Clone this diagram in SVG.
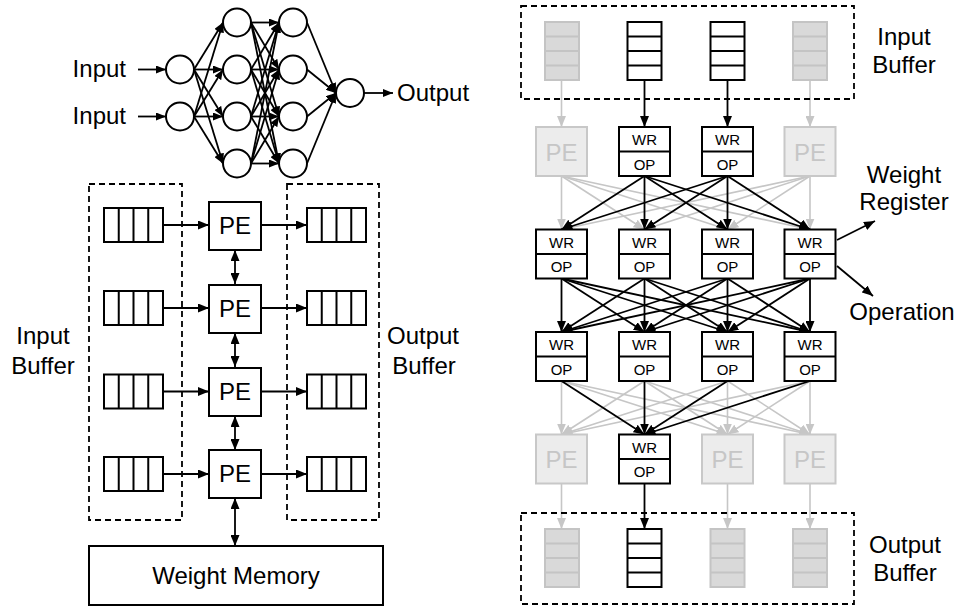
<svg xmlns="http://www.w3.org/2000/svg" width="957" height="606" viewBox="0 0 957 606">
  <style>
    .txt { font-family: "Liberation Sans", Arial, sans-serif; fill: #000; }
    .lbl { font-size: 24px; }
    .mid { text-anchor: middle; }
    .small { font-size: 15px; }
    .gtxt { fill: #c6c6c6; }
    .box { fill: #fff; stroke: #000; stroke-width: 2; }
    .cell { fill: none; stroke: #000; stroke-width: 2; }
    .gbox { fill: #ececec; stroke: #c8c8c8; stroke-width: 2; }
    .gbuf { fill: #d9d9d9; stroke: #c4c4c4; stroke-width: 2; }
    .dash { fill: none; stroke: #000; stroke-width: 1.8; stroke-dasharray: 6 4; }
    .neuron { fill: #fff; stroke: #000; stroke-width: 2; }
    .nn { stroke: #000; stroke-width: 1.8; fill: none; marker-end: url(#ahS); }
    .blk { stroke: #000; stroke-width: 1.8; fill: none; marker-end: url(#ah); }
    .dbl { stroke: #000; stroke-width: 1.8; fill: none; marker-end: url(#ah); marker-start: url(#ah); }
    .gry { stroke: #c6c6c6; stroke-width: 1.6; fill: none; marker-end: url(#ahG); }
  </style>
  <defs>
    <marker id="ah" markerUnits="userSpaceOnUse" markerWidth="11" markerHeight="9" refX="11" refY="4.5" orient="auto-start-reverse">
      <path d="M0,0 L11,4.5 L0,9 z" fill="#000"/>
    </marker>
    <marker id="ahS" markerUnits="userSpaceOnUse" markerWidth="10" markerHeight="8" refX="10" refY="4" orient="auto">
      <path d="M0,0 L10,4 L0,8 z" fill="#000"/>
    </marker>
    <marker id="ahG" markerUnits="userSpaceOnUse" markerWidth="11" markerHeight="9" refX="11" refY="4.5" orient="auto">
      <path d="M0,0 L11,4.5 L0,9 z" fill="#c6c6c6"/>
    </marker>
    <g id="hbuf">
      <rect x="0" y="0" width="59" height="34" class="box"/>
      <path d="M14.75,0 V34 M29.5,0 V34 M44.25,0 V34" class="cell"/>
    </g>
    <g id="vbuf">
      <rect x="0" y="0" width="34" height="58" class="box"/>
      <path d="M0,14.5 H34 M0,29 H34 M0,43.5 H34" class="cell"/>
    </g>
    <g id="vbufg">
      <rect x="0" y="0" width="34" height="58" class="gbuf"/>
      <path d="M0,14.5 H34 M0,29 H34 M0,43.5 H34" fill="none" stroke="#c4c4c4" stroke-width="2"/>
    </g>
  </defs>

  <!-- ===== Neural network sketch ===== -->
  <g id="nn-edges">
    <!-- inputs -->
    <line x1="138" y1="69.5" x2="166" y2="69.5" class="nn"/>
    <line x1="138" y1="116.5" x2="166" y2="116.5" class="nn"/>
    <!-- layer 1 -> layer 2 -->
    <line x1="194" y1="69.5" x2="223" y2="22.5" class="nn"/>
    <line x1="194" y1="69.5" x2="223" y2="69.5" class="nn"/>
    <line x1="194" y1="69.5" x2="223" y2="116.5" class="nn"/>
    <line x1="194" y1="69.5" x2="223" y2="163.5" class="nn"/>
    <line x1="194" y1="116.5" x2="223" y2="22.5" class="nn"/>
    <line x1="194" y1="116.5" x2="223" y2="69.5" class="nn"/>
    <line x1="194" y1="116.5" x2="223" y2="116.5" class="nn"/>
    <line x1="194" y1="116.5" x2="223" y2="163.5" class="nn"/>
    <!-- layer 2 -> layer 3 -->
    <line x1="251" y1="22.5" x2="279" y2="22.5" class="nn"/>
    <line x1="251" y1="22.5" x2="279" y2="69.5" class="nn"/>
    <line x1="251" y1="22.5" x2="279" y2="116.5" class="nn"/>
    <line x1="251" y1="22.5" x2="279" y2="163.5" class="nn"/>
    <line x1="251" y1="69.5" x2="279" y2="22.5" class="nn"/>
    <line x1="251" y1="69.5" x2="279" y2="69.5" class="nn"/>
    <line x1="251" y1="69.5" x2="279" y2="116.5" class="nn"/>
    <line x1="251" y1="69.5" x2="279" y2="163.5" class="nn"/>
    <line x1="251" y1="116.5" x2="279" y2="22.5" class="nn"/>
    <line x1="251" y1="116.5" x2="279" y2="69.5" class="nn"/>
    <line x1="251" y1="116.5" x2="279" y2="116.5" class="nn"/>
    <line x1="251" y1="116.5" x2="279" y2="163.5" class="nn"/>
    <line x1="251" y1="163.5" x2="279" y2="22.5" class="nn"/>
    <line x1="251" y1="163.5" x2="279" y2="69.5" class="nn"/>
    <line x1="251" y1="163.5" x2="279" y2="116.5" class="nn"/>
    <line x1="251" y1="163.5" x2="279" y2="163.5" class="nn"/>
    <!-- layer 3 -> output -->
    <line x1="307" y1="22.5" x2="336" y2="93" class="nn"/>
    <line x1="307" y1="69.5" x2="336" y2="93" class="nn"/>
    <line x1="307" y1="116.5" x2="336" y2="93" class="nn"/>
    <line x1="307" y1="163.5" x2="336" y2="93" class="nn"/>
    <line x1="364" y1="93" x2="393" y2="93" class="nn"/>
  </g>
  <g id="nn-nodes">
    <circle cx="180" cy="69.5" r="14" class="neuron"/>
    <circle cx="180" cy="116.5" r="14" class="neuron"/>
    <circle cx="237" cy="22.5" r="14" class="neuron"/>
    <circle cx="237" cy="69.5" r="14" class="neuron"/>
    <circle cx="237" cy="116.5" r="14" class="neuron"/>
    <circle cx="237" cy="163.5" r="14" class="neuron"/>
    <circle cx="293" cy="22.5" r="14" class="neuron"/>
    <circle cx="293" cy="69.5" r="14" class="neuron"/>
    <circle cx="293" cy="116.5" r="14" class="neuron"/>
    <circle cx="293" cy="163.5" r="14" class="neuron"/>
    <circle cx="350" cy="93" r="14" class="neuron"/>
  </g>
  <g id="nn-labels">
    <text x="126" y="77" class="txt lbl" text-anchor="end">Input</text>
    <text x="126" y="124" class="txt lbl" text-anchor="end">Input</text>
    <text x="397" y="101" class="txt lbl">Output</text>
  </g>

  <!-- ===== Systolic PE column (left) ===== -->
  <g id="left-input-buffer">
    <rect x="89" y="184" width="93" height="336" class="dash"/>
    <use href="#hbuf" x="104" y="208"/>
    <use href="#hbuf" x="104" y="291"/>
    <use href="#hbuf" x="104" y="374.5"/>
    <use href="#hbuf" x="104" y="457"/>
    <text x="43" y="344" class="txt lbl mid">Input</text>
    <text x="43" y="374" class="txt lbl mid">Buffer</text>
  </g>
  <g id="left-output-buffer">
    <rect x="287" y="184" width="92" height="336" class="dash"/>
    <use href="#hbuf" x="307" y="208"/>
    <use href="#hbuf" x="307" y="291"/>
    <use href="#hbuf" x="307" y="374.5"/>
    <use href="#hbuf" x="307" y="457"/>
    <text x="423" y="344" class="txt lbl mid">Output</text>
    <text x="424" y="374" class="txt lbl mid">Buffer</text>
  </g>
  <g id="left-connectors">
    <line x1="163" y1="225" x2="209" y2="225" class="blk"/>
    <line x1="163" y1="308" x2="209" y2="308" class="blk"/>
    <line x1="163" y1="391.5" x2="209" y2="391.5" class="blk"/>
    <line x1="163" y1="474" x2="209" y2="474" class="blk"/>
    <line x1="261" y1="225" x2="307" y2="225" class="blk"/>
    <line x1="261" y1="308" x2="307" y2="308" class="blk"/>
    <line x1="261" y1="391.5" x2="307" y2="391.5" class="blk"/>
    <line x1="261" y1="474" x2="307" y2="474" class="blk"/>
    <line x1="235" y1="250" x2="235" y2="284" class="dbl"/>
    <line x1="235" y1="333" x2="235" y2="367" class="dbl"/>
    <line x1="235" y1="416" x2="235" y2="450" class="dbl"/>
    <line x1="235" y1="498" x2="235" y2="546" class="dbl"/>
  </g>
  <g id="pe-l1">
    <rect x="209" y="202" width="52" height="48" class="box"/>
    <text x="235" y="234" class="txt lbl mid">PE</text>
  </g>
  <g id="pe-l2">
    <rect x="209" y="285" width="52" height="48" class="box"/>
    <text x="235" y="317" class="txt lbl mid">PE</text>
  </g>
  <g id="pe-l3">
    <rect x="209" y="368" width="52" height="48" class="box"/>
    <text x="235" y="400" class="txt lbl mid">PE</text>
  </g>
  <g id="pe-l4">
    <rect x="209" y="450" width="52" height="48" class="box"/>
    <text x="235" y="482" class="txt lbl mid">PE</text>
  </g>
  <g id="weight-memory">
    <rect x="89" y="546" width="294" height="59" class="box"/>
    <text x="236" y="584" class="txt lbl mid">Weight Memory</text>
  </g>

  <!-- ===== Reconfigurable PE array (right) ===== -->
  <g id="array-connectors">
    <!-- input buffer -> row 1 -->
    <line x1="561.5" y1="80" x2="561.5" y2="127" class="gry"/>
    <line x1="810" y1="80" x2="810" y2="127" class="gry"/>
    <line x1="644.5" y1="80" x2="644.5" y2="127" class="blk"/>
    <line x1="727.5" y1="80" x2="727.5" y2="127" class="blk"/>
    <!-- row 1 -> row 2, inactive sources -->
    <line x1="561.5" y1="176" x2="561.5" y2="229.5" class="gry"/>
    <line x1="561.5" y1="176" x2="644.5" y2="229.5" class="gry"/>
    <line x1="561.5" y1="176" x2="727.5" y2="229.5" class="gry"/>
    <line x1="561.5" y1="176" x2="810" y2="229.5" class="gry"/>
    <line x1="810" y1="176" x2="561.5" y2="229.5" class="gry"/>
    <line x1="810" y1="176" x2="644.5" y2="229.5" class="gry"/>
    <line x1="810" y1="176" x2="727.5" y2="229.5" class="gry"/>
    <line x1="810" y1="176" x2="810" y2="229.5" class="gry"/>
    <!-- row 3 -> row 4, inactive targets -->
    <line x1="561.5" y1="381" x2="561.5" y2="434.5" class="gry"/>
    <line x1="561.5" y1="381" x2="727.5" y2="434.5" class="gry"/>
    <line x1="561.5" y1="381" x2="810" y2="434.5" class="gry"/>
    <line x1="644.5" y1="381" x2="561.5" y2="434.5" class="gry"/>
    <line x1="644.5" y1="381" x2="727.5" y2="434.5" class="gry"/>
    <line x1="644.5" y1="381" x2="810" y2="434.5" class="gry"/>
    <line x1="727.5" y1="381" x2="561.5" y2="434.5" class="gry"/>
    <line x1="727.5" y1="381" x2="727.5" y2="434.5" class="gry"/>
    <line x1="727.5" y1="381" x2="810" y2="434.5" class="gry"/>
    <line x1="810" y1="381" x2="561.5" y2="434.5" class="gry"/>
    <line x1="810" y1="381" x2="727.5" y2="434.5" class="gry"/>
    <line x1="810" y1="381" x2="810" y2="434.5" class="gry"/>
    <!-- row 4 -> output buffer -->
    <line x1="561.5" y1="483.5" x2="561.5" y2="529" class="gry"/>
    <line x1="727.5" y1="483.5" x2="727.5" y2="529" class="gry"/>
    <line x1="810" y1="483.5" x2="810" y2="529" class="gry"/>
    <line x1="644.5" y1="483.5" x2="644.5" y2="529" class="blk"/>
    <!-- row 1 -> row 2, active sources -->
    <line x1="644.5" y1="176" x2="561.5" y2="229.5" class="blk"/>
    <line x1="644.5" y1="176" x2="644.5" y2="229.5" class="blk"/>
    <line x1="644.5" y1="176" x2="727.5" y2="229.5" class="blk"/>
    <line x1="644.5" y1="176" x2="810" y2="229.5" class="blk"/>
    <line x1="727.5" y1="176" x2="561.5" y2="229.5" class="blk"/>
    <line x1="727.5" y1="176" x2="644.5" y2="229.5" class="blk"/>
    <line x1="727.5" y1="176" x2="727.5" y2="229.5" class="blk"/>
    <line x1="727.5" y1="176" x2="810" y2="229.5" class="blk"/>
    <!-- row 2 -> row 3, fully connected -->
    <line x1="561.5" y1="278.5" x2="561.5" y2="332" class="blk"/>
    <line x1="561.5" y1="278.5" x2="644.5" y2="332" class="blk"/>
    <line x1="561.5" y1="278.5" x2="727.5" y2="332" class="blk"/>
    <line x1="561.5" y1="278.5" x2="810" y2="332" class="blk"/>
    <line x1="644.5" y1="278.5" x2="561.5" y2="332" class="blk"/>
    <line x1="644.5" y1="278.5" x2="644.5" y2="332" class="blk"/>
    <line x1="644.5" y1="278.5" x2="727.5" y2="332" class="blk"/>
    <line x1="644.5" y1="278.5" x2="810" y2="332" class="blk"/>
    <line x1="727.5" y1="278.5" x2="561.5" y2="332" class="blk"/>
    <line x1="727.5" y1="278.5" x2="644.5" y2="332" class="blk"/>
    <line x1="727.5" y1="278.5" x2="727.5" y2="332" class="blk"/>
    <line x1="727.5" y1="278.5" x2="810" y2="332" class="blk"/>
    <line x1="810" y1="278.5" x2="561.5" y2="332" class="blk"/>
    <line x1="810" y1="278.5" x2="644.5" y2="332" class="blk"/>
    <line x1="810" y1="278.5" x2="727.5" y2="332" class="blk"/>
    <line x1="810" y1="278.5" x2="810" y2="332" class="blk"/>
    <!-- row 3 -> row 4, active target -->
    <line x1="561.5" y1="381" x2="644.5" y2="434.5" class="blk"/>
    <line x1="644.5" y1="381" x2="644.5" y2="434.5" class="blk"/>
    <line x1="727.5" y1="381" x2="644.5" y2="434.5" class="blk"/>
    <line x1="810" y1="381" x2="644.5" y2="434.5" class="blk"/>
    <!-- callouts -->
    <line x1="837" y1="240" x2="875" y2="221" class="blk"/>
    <line x1="837" y1="266" x2="873" y2="296" class="blk"/>
  </g>

  <g id="input-buffer">
    <rect x="521" y="6" width="333" height="93" class="dash"/>
    <use href="#vbufg" x="545" y="22"/>
    <use href="#vbuf" x="627.5" y="22"/>
    <use href="#vbuf" x="710.5" y="22"/>
    <use href="#vbufg" x="793" y="22"/>
    <text x="904" y="45" class="txt lbl mid">Input</text>
    <text x="904" y="73" class="txt lbl mid">Buffer</text>
  </g>
  <g id="output-buffer">
    <rect x="521" y="513" width="333" height="91" class="dash"/>
    <use href="#vbufg" x="545" y="529"/>
    <use href="#vbuf" x="627.5" y="529"/>
    <use href="#vbufg" x="710.5" y="529"/>
    <use href="#vbufg" x="793" y="529"/>
    <text x="905" y="553" class="txt lbl mid">Output</text>
    <text x="905" y="581" class="txt lbl mid">Buffer</text>
  </g>

  <!-- row 1 -->
  <g id="pe-r1c1">
    <rect x="536" y="127" width="51" height="49" class="gbox"/>
    <text x="561.5" y="160.5" class="txt lbl mid gtxt">PE</text>
  </g>
  <g id="pe-r1c2">
    <rect x="619" y="127" width="51" height="49" class="box"/>
    <line x1="619" y1="151.5" x2="670" y2="151.5" class="cell"/>
    <text x="644.5" y="145" class="txt small mid">WR</text>
    <text x="644.5" y="169.5" class="txt small mid">OP</text>
  </g>
  <g id="pe-r1c3">
    <rect x="702" y="127" width="51" height="49" class="box"/>
    <line x1="702" y1="151.5" x2="753" y2="151.5" class="cell"/>
    <text x="727.5" y="145" class="txt small mid">WR</text>
    <text x="727.5" y="169.5" class="txt small mid">OP</text>
  </g>
  <g id="pe-r1c4">
    <rect x="784.5" y="127" width="51" height="49" class="gbox"/>
    <text x="810" y="160.5" class="txt lbl mid gtxt">PE</text>
  </g>

  <!-- row 2 -->
  <g id="pe-r2c1">
    <rect x="536" y="229.5" width="51" height="49" class="box"/>
    <line x1="536" y1="254" x2="587" y2="254" class="cell"/>
    <text x="561.5" y="247.5" class="txt small mid">WR</text>
    <text x="561.5" y="272" class="txt small mid">OP</text>
  </g>
  <g id="pe-r2c2">
    <rect x="619" y="229.5" width="51" height="49" class="box"/>
    <line x1="619" y1="254" x2="670" y2="254" class="cell"/>
    <text x="644.5" y="247.5" class="txt small mid">WR</text>
    <text x="644.5" y="272" class="txt small mid">OP</text>
  </g>
  <g id="pe-r2c3">
    <rect x="702" y="229.5" width="51" height="49" class="box"/>
    <line x1="702" y1="254" x2="753" y2="254" class="cell"/>
    <text x="727.5" y="247.5" class="txt small mid">WR</text>
    <text x="727.5" y="272" class="txt small mid">OP</text>
  </g>
  <g id="pe-r2c4">
    <rect x="784.5" y="229.5" width="51" height="49" class="box"/>
    <line x1="784.5" y1="254" x2="835.5" y2="254" class="cell"/>
    <text x="810" y="247.5" class="txt small mid">WR</text>
    <text x="810" y="272" class="txt small mid">OP</text>
  </g>

  <!-- row 3 -->
  <g id="pe-r3c1">
    <rect x="536" y="332" width="51" height="49" class="box"/>
    <line x1="536" y1="356.5" x2="587" y2="356.5" class="cell"/>
    <text x="561.5" y="350" class="txt small mid">WR</text>
    <text x="561.5" y="374.5" class="txt small mid">OP</text>
  </g>
  <g id="pe-r3c2">
    <rect x="619" y="332" width="51" height="49" class="box"/>
    <line x1="619" y1="356.5" x2="670" y2="356.5" class="cell"/>
    <text x="644.5" y="350" class="txt small mid">WR</text>
    <text x="644.5" y="374.5" class="txt small mid">OP</text>
  </g>
  <g id="pe-r3c3">
    <rect x="702" y="332" width="51" height="49" class="box"/>
    <line x1="702" y1="356.5" x2="753" y2="356.5" class="cell"/>
    <text x="727.5" y="350" class="txt small mid">WR</text>
    <text x="727.5" y="374.5" class="txt small mid">OP</text>
  </g>
  <g id="pe-r3c4">
    <rect x="784.5" y="332" width="51" height="49" class="box"/>
    <line x1="784.5" y1="356.5" x2="835.5" y2="356.5" class="cell"/>
    <text x="810" y="350" class="txt small mid">WR</text>
    <text x="810" y="374.5" class="txt small mid">OP</text>
  </g>

  <!-- row 4 -->
  <g id="pe-r4c1">
    <rect x="536" y="434.5" width="51" height="49" class="gbox"/>
    <text x="561.5" y="468" class="txt lbl mid gtxt">PE</text>
  </g>
  <g id="pe-r4c2">
    <rect x="619" y="434.5" width="51" height="49" class="box"/>
    <line x1="619" y1="459" x2="670" y2="459" class="cell"/>
    <text x="644.5" y="452.5" class="txt small mid">WR</text>
    <text x="644.5" y="477" class="txt small mid">OP</text>
  </g>
  <g id="pe-r4c3">
    <rect x="702" y="434.5" width="51" height="49" class="gbox"/>
    <text x="727.5" y="468" class="txt lbl mid gtxt">PE</text>
  </g>
  <g id="pe-r4c4">
    <rect x="784.5" y="434.5" width="51" height="49" class="gbox"/>
    <text x="810" y="468" class="txt lbl mid gtxt">PE</text>
  </g>

  <g id="callout-labels">
    <text x="904" y="183" class="txt lbl mid">Weight</text>
    <text x="904" y="210" class="txt lbl mid">Register</text>
    <text x="902" y="320" class="txt lbl mid">Operation</text>
  </g>
</svg>
